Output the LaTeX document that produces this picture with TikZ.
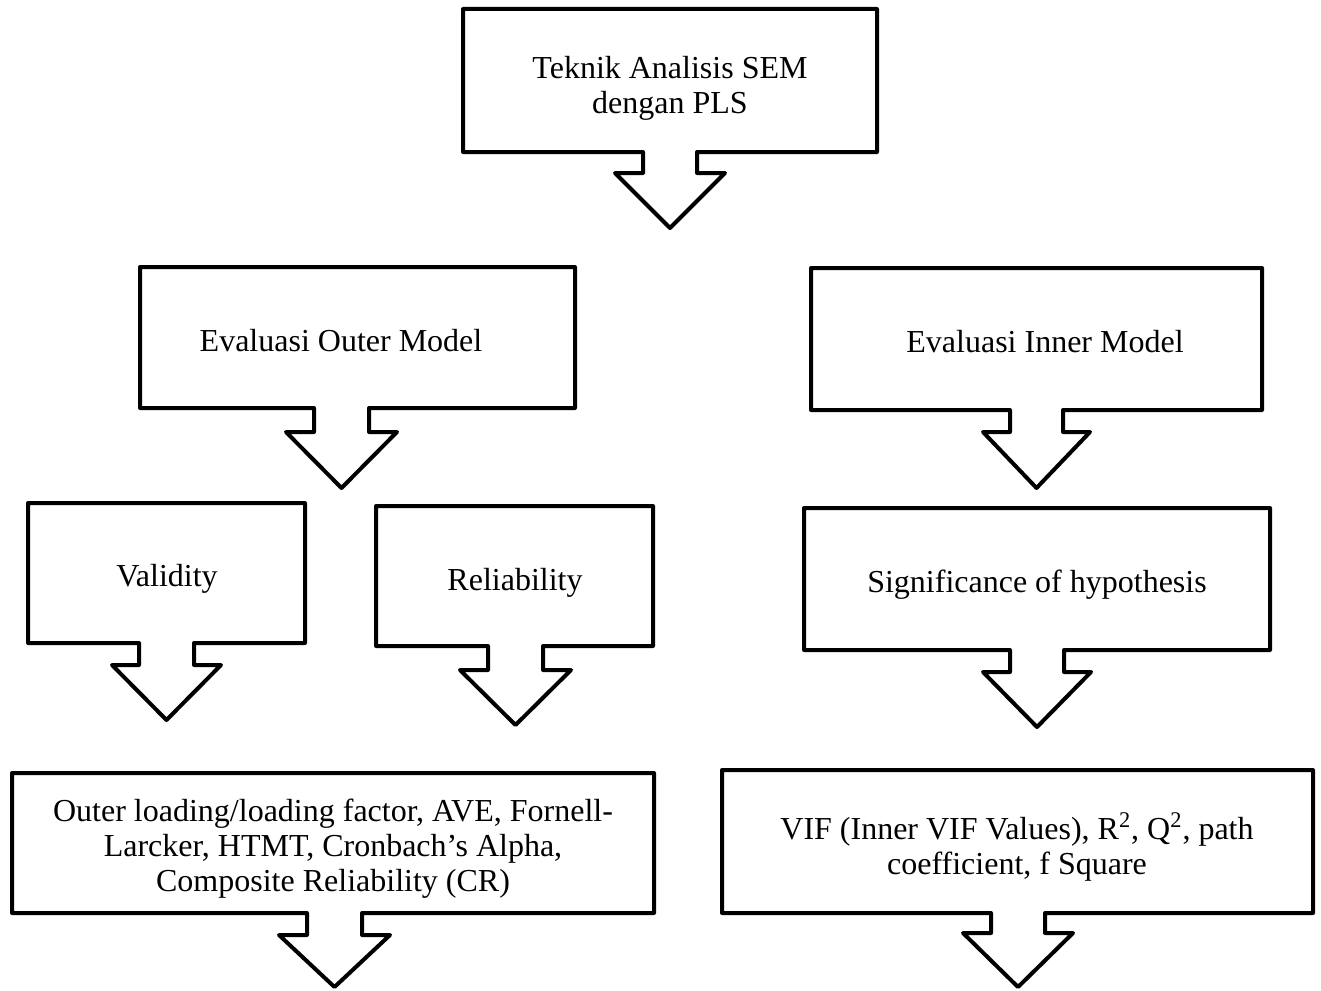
\documentclass[tikz,border=0pt]{standalone}
\usepackage{fontspec}
\setmainfont{Liberation Serif}
\tikzset{
  callout/.style={draw=black, line width=2pt, line join=round, fill=white},
  lbl/.style={font=\fontsize{16pt}{17.5pt}\selectfont, align=center, inner sep=0pt}
}
% #1 left, #2 top, #3 right, #4 bottom, #5 stem left, #6 stem right,
% #7 stem bottom, #8 wing overhang, #9 tip y
\newcommand{\arrowcallout}[9]{%
  \draw[callout] (#1,#2) -- (#3,#2) -- (#3,#4) -- (#6,#4) -- (#6,#7)
    -- ({#6+#8},#7) -- ({(#5+#6)/2},#9) -- ({#5-#8},#7) -- (#5,#7)
    -- (#5,#4) -- (#1,#4) -- cycle;}
\begin{document}
\begin{tikzpicture}[x=0.5pt,y=-0.5pt]
\useasboundingbox (0,0) rectangle (1321,990);
\fill[white] (0,0) rectangle (1321,990);

\arrowcallout{463}{9}{877}{152}{643}{697}{173}{28}{228}
\node[lbl] (sem) at (670,88) {Teknik Analisis SEM\\dengan PLS};

\arrowcallout{140}{267}{575}{408}{314}{369}{432}{28}{488}
\node[lbl] (outer) at (341,341) {Evaluasi Outer Model};

\arrowcallout{811}{268}{1262}{410}{1010}{1063}{432}{27}{488}
\node[lbl] (inner) at (1045,342) {Evaluasi Inner Model};

\arrowcallout{28}{503}{305}{643}{139}{194}{665}{27}{720}
\node[lbl] (valid) at (167,579) {Validity};

\arrowcallout{376}{506}{653}{646}{488}{543}{670}{28}{725}
\node[lbl] (reli) at (515,583) {Reliability};

\arrowcallout{804}{508}{1270}{650}{1010}{1064}{672}{27}{727}
\node[lbl] (sig) at (1037,585) {Significance of hypothesis};

\arrowcallout{12}{773}{654}{913}{307}{362}{935}{28}{987}
\node[lbl] (cr) at (333,849) {Outer loading/loading factor, AVE, Fornell-\\Larcker, HTMT, Cronbach’s Alpha,\\Composite Reliability (CR)};

\arrowcallout{722}{770}{1313}{913}{991}{1045}{933}{28}{987}
\node[lbl] (vif) at (1017,847) {VIF (Inner VIF Values), R\textsuperscript{2}, Q\textsuperscript{2}, path\\coefficient, f Square};
\end{tikzpicture}
\end{document}
